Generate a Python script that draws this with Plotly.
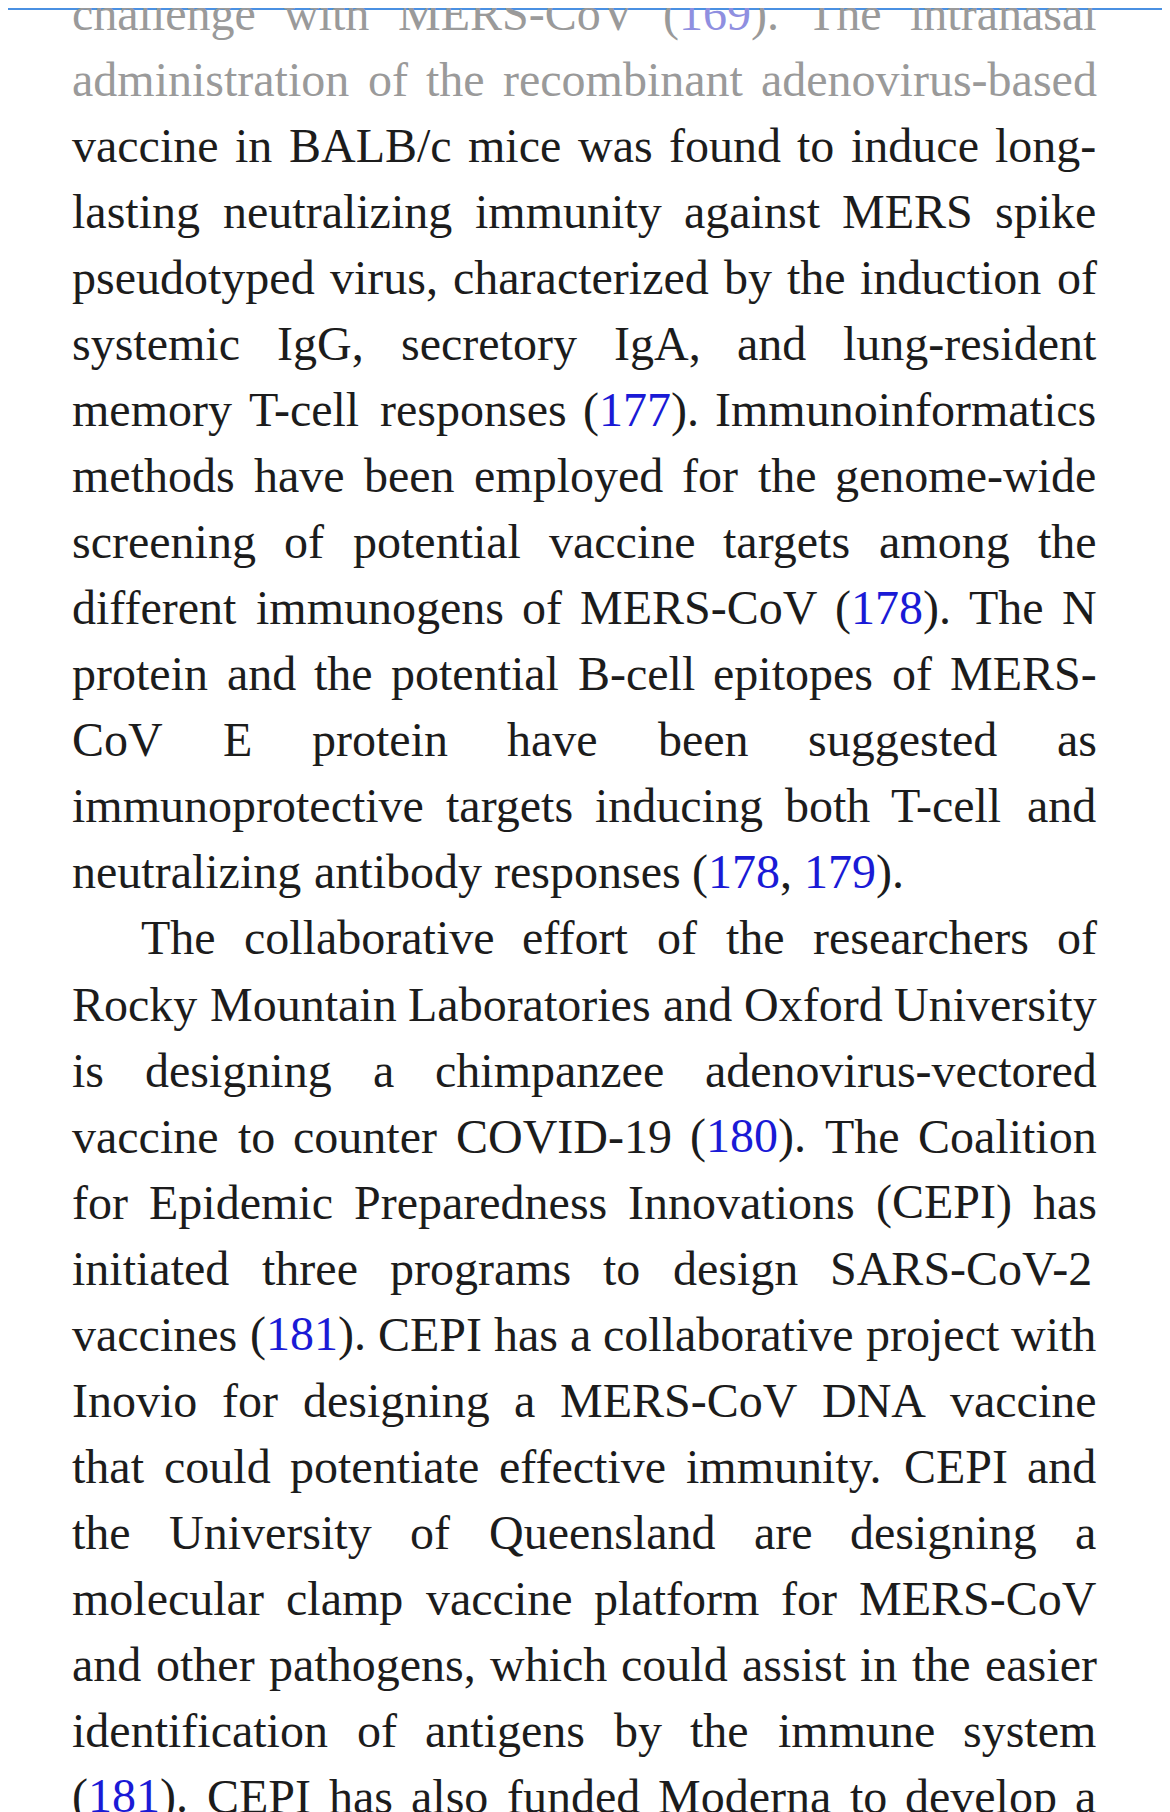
import re
import plotly.graph_objects as go

W, H = 1170, 1812
S = 1170 / 1012.0

lines = [
    "challenge with MERS-CoV ([169]). The intranasal",
    "administration of the recombinant adenovirus-based",
    "vaccine in BALB/c mice was found to induce long-",
    "lasting neutralizing immunity against MERS spike",
    "pseudotyped virus, characterized by the induction of",
    "systemic IgG, secretory IgA, and lung-resident",
    "memory T-cell responses ([177]). Immunoinformatics",
    "methods have been employed for the genome-wide",
    "screening of potential vaccine targets among the",
    "different immunogens of MERS-CoV ([178]). The N",
    "protein and the potential B-cell epitopes of MERS-",
    "CoV E protein have been suggested as",
    "immunoprotective targets inducing both T-cell and",
    "neutralizing antibody responses ([178], [179]).",
    "The collaborative effort of the researchers of",
    "Rocky Mountain Laboratories and Oxford University",
    "is designing a chimpanzee adenovirus-vectored",
    "vaccine to counter COVID-19 ([180]). The Coalition",
    "for Epidemic Preparedness Innovations (CEPI) has",
    "initiated three programs to design SARS-CoV-2",
    "vaccines ([181]). CEPI has a collaborative project with",
    "Inovio for designing a MERS-CoV DNA vaccine",
    "that could potentiate effective immunity. CEPI and",
    "the University of Queensland are designing a",
    "molecular clamp vaccine platform for MERS-CoV",
    "and other pathogens, which could assist in the easier",
    "identification of antigens by the immune system",
    "([181]). CEPI has also funded Moderna to develop a",
]
justified = [True] * 13 + [False] + [True] * 14
indented = [False] * 14 + [True] + [False] * 13
faded = [True, True] + [False] * 26

# Times-like advance widths (per 1000 em)
wid = dict(zip("abcdefghijklmnopqrstuvwxyz",
               [444,500,444,500,444,333,500,500,278,278,500,278,778,500,500,500,500,333,389,278,500,500,722,500,500,444]))
wid.update(dict(zip("ABCDEFGHIJKLMNOPQRSTUVWXYZ",
               [722,667,667,722,611,556,722,722,333,389,722,611,889,722,722,556,722,667,556,611,722,722,944,722,722,611])))
wid.update({d: 500 for d in "0123456789"})
wid.update({" ": 250, "(": 333, ")": 333, ".": 250, ",": 250, "-": 333, "/": 278})

FS = 48
DX, DYS = -9 * S, -10 * S
LEFT, RIGHT, INDENT = 63 * S + DX, 949 * S + DX, 122 * S + DX
Y0, DY = 15 * S + DYS, 57.1 * S

def plain(w):
    return w.replace("[", "").replace("]", "")

def width(w):
    return sum(wid.get(c, 500) for c in plain(w)) / 1000.0 * FS

fig = go.Figure()
anns = []
for i, ln in enumerate(lines):
    y = Y0 + i * DY
    words = ln.split(" ")
    ws = [width(w) for w in words]
    x0 = INDENT if indented[i] else LEFT
    if justified[i] and len(words) > 1:
        gap = (RIGHT - x0 - sum(ws)) / (len(words) - 1)
    else:
        gap = wid[" "] / 1000.0 * FS
    tc = "#9a9a9a" if faded[i] else "#1c1c1c"
    lc = "#8f8fe0" if faded[i] else "#1a1ad6"
    x = x0
    for w, wd in zip(words, ws):
        txt = re.sub(r"\[(\d+)\]", lambda m: f"<span style='color:{lc}'>{m.group(1)}</span>", w)
        anns.append(dict(x=x, y=y, xref="x", yref="y", text=txt, showarrow=False,
                         xanchor="left", yanchor="middle",
                         font=dict(family="Liberation Serif", size=FS, color=tc)))
        x += wd + gap

fig.update_layout(
    width=W, height=H, margin=dict(l=0, r=0, t=0, b=0),
    paper_bgcolor="white", plot_bgcolor="white",
    xaxis=dict(range=[0, W], visible=False, fixedrange=True),
    yaxis=dict(range=[H, 0], visible=False, fixedrange=True),
    annotations=anns,
    shapes=[dict(type="line", xref="x", yref="y", x0=0, x1=W, y0=1, y1=1,
                 line=dict(color="#4a90e2", width=2))],
    showlegend=False,
)
fig.write_html("out.html")
